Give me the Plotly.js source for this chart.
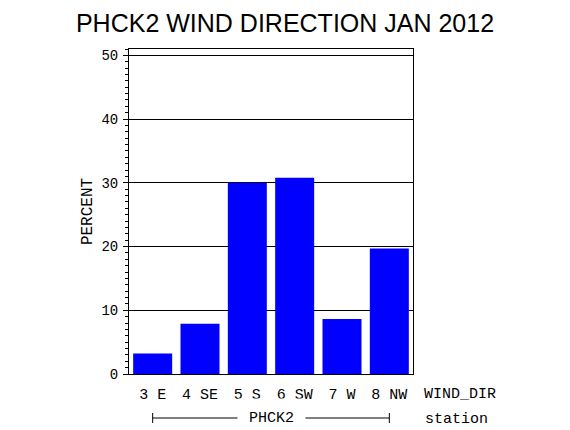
<!DOCTYPE html>
<html>
<head>
<meta charset="utf-8">
<script src="https://cdn.plot.ly/plotly-3.0.1.min.js"></script>
<style>
  html, body { margin: 0; padding: 0; background: white; }
  #chart { width: 570px; height: 430px; }
</style>
</head>
<body>
<div id="chart"></div>
<script>
// wind direction bins for station PHCK2, Jan 2012
const windDirs = ['3 E', '4 SE', '5 S', '6 SW', '7 W', '8 NW'];
const percents = [3.2, 7.9, 30.0, 30.8, 8.65, 19.7];
const stationName = 'PHCK2';
const yTicks = [0, 10, 20, 30, 40, 50];

const monoFont = 'Liberation Mono, DejaVu Sans Mono, monospace';

const trace = {
    x: windDirs,
    y: percents,
    type: 'bar',
    marker: { color: '#0000ff', line: { width: 0 } },
    hoverinfo: 'x+y'
};

const layout = {
    width: 570,
    height: 430,
    margin: { t: 49, r: 157, b: 56, l: 129 },
    paper_bgcolor: 'white',
    plot_bgcolor: 'white',
    showlegend: false,
    bargap: 0.176,
    title: {
        text: 'PHCK2 WIND DIRECTION JAN 2012',
        font: { family: 'Liberation Sans, Arial, sans-serif', size: 25, color: '#000' },
        x: 0.5,
        xref: 'container',
        y: 0.947,
        yanchor: 'middle'
    },
    xaxis: {
        type: 'category',
        range: [-0.5, windDirs.length - 0.5],
        showline: true,
        mirror: true,
        linecolor: '#000',
        linewidth: 1,
        showgrid: false,
        ticks: '',
        tickfont: { family: monoFont, size: 15, color: '#000' },
        ticklabelstandoff: 6,
        fixedrange: true
    },
    yaxis: {
        range: [0, 51],
        tickmode: 'array',
        tickvals: yTicks,
        ticktext: yTicks.map(String),
        ticks: 'outside',
        ticklen: 5,
        tickcolor: '#000',
        minor: { dtick: 1, ticks: 'outside', ticklen: 3, tickcolor: '#000', showgrid: false },
        showline: true,
        mirror: true,
        linecolor: '#000',
        linewidth: 1,
        showgrid: true,
        gridcolor: '#000',
        gridwidth: 1,
        zeroline: false,
        tickfont: { family: monoFont, size: 14, color: '#000' },
        ticklabelstandoff: 2,
        title: {
            text: 'PERCENT',
            font: { family: monoFont, size: 16, color: '#000' },
            standoff: 4
        },
        fixedrange: true
    },
    annotations: [
        {
            text: 'WIND_DIR',
            xref: 'paper', yref: 'paper',
            x: 1, y: 0,
            xshift: 9, yshift: -20,
            xanchor: 'left', yanchor: 'middle',
            showarrow: false,
            font: { family: monoFont, size: 15, color: '#000' }
        },
        {
            text: 'station',
            xref: 'paper', yref: 'paper',
            x: 1, y: 0,
            xshift: 10, yshift: -45,
            xanchor: 'left', yanchor: 'middle',
            showarrow: false,
            font: { family: monoFont, size: 15, color: '#000' }
        },
        {
            text: stationName,
            xref: 'paper', yref: 'paper',
            x: 0.5, y: 0,
            yshift: -44,
            xanchor: 'center', yanchor: 'middle',
            showarrow: false,
            bgcolor: 'white',
            borderpad: 11,
            font: { family: monoFont, size: 15, color: '#000' }
        }
    ],
    shapes: [
        // bracket under the categories
        {
            type: 'line', xref: 'x', yref: 'paper', ysizemode: 'pixel', yanchor: 0,
            x0: windDirs[0], x1: windDirs[windDirs.length - 1], y0: -44, y1: -44,
            line: { color: '#000', width: 1 }
        },
        {
            type: 'line', xref: 'x', yref: 'paper', ysizemode: 'pixel', yanchor: 0,
            x0: windDirs[0], x1: windDirs[0], y0: -39, y1: -49,
            line: { color: '#000', width: 1 }
        },
        {
            type: 'line', xref: 'x', yref: 'paper', ysizemode: 'pixel', yanchor: 0,
            x0: windDirs[windDirs.length - 1], x1: windDirs[windDirs.length - 1], y0: -39, y1: -49,
            line: { color: '#000', width: 1 }
        }
    ]
};

Plotly.newPlot('chart', [trace], layout, { displayModeBar: false, staticPlot: true });
</script>
</body>
</html>
